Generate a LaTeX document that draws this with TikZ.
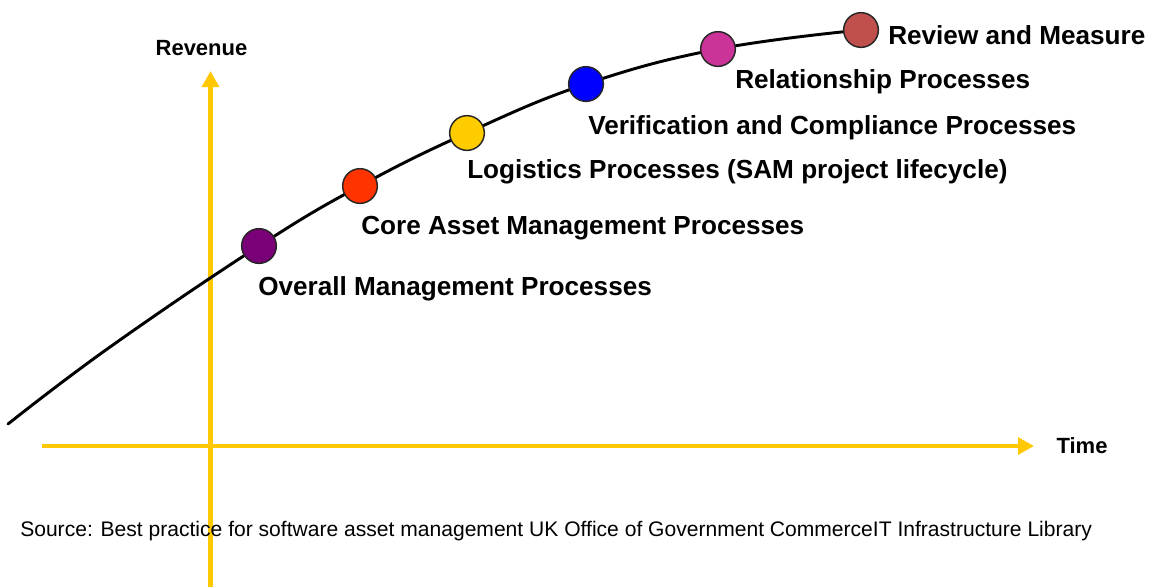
\documentclass[tikz,border=0pt]{standalone}
\usepackage{fontspec}
\setmainfont{Liberation Sans}
\usetikzlibrary{arrows.meta}
\definecolor{axisyellow}{HTML}{FFC800}
\definecolor{cPurple}{HTML}{7A0078}
\definecolor{cRed}{HTML}{FF3300}
\definecolor{cYellow}{HTML}{FFCC00}
\definecolor{cBlue}{HTML}{0000FF}
\definecolor{cMagenta}{HTML}{CC3399}
\definecolor{cBrown}{HTML}{C0504D}
\tikzset{
  axis/.style={draw=axisyellow, line width=3.6pt,
    -{Triangle[width=12.5pt,length=12pt]}},
  milestone/.style={circle, draw=black!85, line width=1.1pt,
    minimum size=26pt, inner sep=0pt},
  phase/.style={anchor=west, inner sep=0pt, font=\bfseries\fontsize{19.6}{22}\selectfont},
  axislabel/.style={inner sep=0pt, font=\bfseries\fontsize{16.5}{19}\selectfont},
}
\begin{document}
\begin{tikzpicture}[x=0.75pt,y=-0.75pt]
\useasboundingbox (0,0) rectangle (1153,587);

% axes
\coordinate (ybot) at (210.5,587);
\coordinate (ytop) at (210.5,71);
\coordinate (xleft) at (42,446);
\coordinate (xright) at (1034,446);
\draw[axis] (ybot) -- (ytop);
\draw[axis] (xleft) -- (xright);

% growth curve
\coordinate (c0) at (8,424);
\coordinate (ca) at (110,347);
\coordinate (k1) at (259,246);
\coordinate (k2) at (360,186);
\coordinate (k3) at (467,133);
\coordinate (k4) at (586,84);
\coordinate (k5) at (718,49);
\coordinate (k6) at (861,30);
\draw[black, line width=2.2pt, line cap=round]
  plot[smooth, tension=0.7] coordinates {(c0) (ca) (k1) (k2) (k3) (k4) (k5) (k6)};

% milestones
\node[milestone, fill=cPurple]  (m1) at (k1) {};
\node[milestone, fill=cRed]     (m2) at (k2) {};
\node[milestone, fill=cYellow]  (m3) at (k3) {};
\node[milestone, fill=cBlue]    (m4) at (k4) {};
\node[milestone, fill=cMagenta] (m5) at (k5) {};
\node[milestone, fill=cBrown]   (m6) at (k6) {};

% phase labels
\node[phase] (l1) at (258,289) {Overall Management Processes};
\node[phase] (l2) at (361,228) {Core Asset Management Processes};
\node[phase] (l3) at (467,172) {Logistics Processes (SAM project lifecycle)};
\node[phase] (l4) at (588,128) {Verification and Compliance Processes};
\node[phase] (l5) at (735,82) {Relationship Processes};
\node[phase] (l6) at (888,35) {Review and Measure};

% axis labels
\node[axislabel] (rev) at (201.5,48) {Revenue};
\node[axislabel] (time) at (1082,446) {Time};

% source line
\node[anchor=west, inner sep=0pt, font=\fontsize{15.8}{18}\selectfont] (src) at (20,531)
  {Source: Best practice for software asset management UK Office of Government CommerceIT Infrastructure Library};
\end{tikzpicture}
\end{document}
